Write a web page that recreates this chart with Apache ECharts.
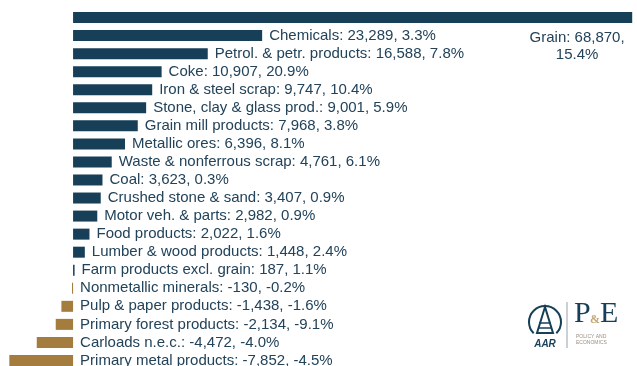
<!DOCTYPE html>
<html>
<head>
<meta charset="utf-8">
<script src="https://cdn.jsdelivr.net/npm/echarts@6/dist/echarts.min.js"></script>
<style>
  html, body { margin: 0; padding: 0; background: #fff; overflow: hidden; }
  #chart { width: 637px; height: 376px; }
</style>
</head>
<body>
<div id="chart"></div>
<script>
const categories = [
  'Grain', 'Chemicals', 'Petrol. & petr. products', 'Coke', 'Iron & steel scrap',
  'Stone, clay & glass prod.', 'Grain mill products', 'Metallic ores',
  'Waste & nonferrous scrap', 'Coal', 'Crushed stone & sand', 'Motor veh. & parts',
  'Food products', 'Lumber & wood products', 'Farm products excl. grain',
  'Nonmetallic minerals', 'Pulp & paper products', 'Primary forest products',
  'Carloads n.e.c.', 'Primary metal products'
]
const carloadChange = [
  68870, 23289, 16588, 10907, 9747, 9001, 7968, 6396, 4761, 3623,
  3407, 2982, 2022, 1448, 187, -130, -1438, -2134, -4472, -7852
]
const pctChange = [
  15.4, 3.3, 7.8, 20.9, 10.4, 5.9, 3.8, 8.1, 6.1, 0.3,
  0.9, 0.9, 1.6, 2.4, 1.1, -0.2, -1.6, -9.1, -4.0, -4.5
]

const NAVY = '#173f58'
const GOLD = '#a47c3e'
const TEXT = '#22435a'

const chart = echarts.init(document.getElementById('chart'))

function fmt(i) {
  return categories[i] + ': ' + carloadChange[i].toLocaleString('en-US') + ', ' + pctChange[i].toFixed(1) + '%'
}

const barData = carloadChange.map(v => ({
  value: v,
  itemStyle: { color: v >= 0 ? NAVY : GOLD }
}))

// transparent helper bars carry the labels (negatives label from zero)
const labelData = carloadChange.map((v, i) => {
  if (i === 0) {
    return {
      value: Math.max(v, 0),
      label: {
        position: [504, 17],
        align: 'center',
        verticalAlign: 'top',
        lineHeight: 17,
        formatter: categories[0] + ': ' + v.toLocaleString('en-US') + ',\n' + pctChange[0].toFixed(1) + '%'
      }
    }
  }
  return { value: Math.max(v, 0) }
})

const option = {
  animation: false,
  grid: { left: 0, top: 8.5, width: 637, height: 361 },
  xAxis: {
    type: 'value',
    min: -9000,
    max: 69460,
    show: false
  },
  yAxis: {
    type: 'category',
    data: categories,
    inverse: true,
    show: false
  },
  series: [
    {
      type: 'bar',
      data: barData,
      barWidth: 11,
      silent: true
    },
    {
      type: 'bar',
      data: labelData,
      barWidth: 11,
      barGap: '-100%',
      itemStyle: { color: 'rgba(0,0,0,0)' },
      silent: true,
      label: {
        show: true,
        position: 'right',
        distance: 7,
        color: TEXT,
        fontFamily: 'Liberation Sans, Arial, sans-serif',
        fontSize: 15,
        formatter: p => fmt(p.dataIndex)
      }
    }
  ],
  graphic: [
    // AAR / P&E logo
    { type: 'arc', shape: { cx: 545, cy: 322, r: 16, startAngle: Math.PI * 0.75, endAngle: Math.PI * 0.25 },
      style: { stroke: NAVY, lineWidth: 2, fill: null } },
    { type: 'polygon', shape: { points: [[545, 307], [537, 333], [553, 333]] },
      style: { fill: null, stroke: NAVY, lineWidth: 2 } },
    { type: 'line', shape: { x1: 539, y1: 323, x2: 551, y2: 323 }, style: { stroke: NAVY, lineWidth: 1.5 } },
    { type: 'line', shape: { x1: 538, y1: 328, x2: 552, y2: 328 }, style: { stroke: NAVY, lineWidth: 1.5 } },
    { type: 'text', x: 545, y: 339, style: { text: 'AAR', fill: NAVY, font: 'italic bold 10px Liberation Sans', align: 'center' } },
    { type: 'line', shape: { x1: 567, y1: 302, x2: 567, y2: 348 }, style: { stroke: '#b9c0c6', lineWidth: 1.5 } },
    { type: 'text', x: 574, y: 299, style: { text: 'P', fill: NAVY, font: '30px Liberation Serif' } },
    { type: 'text', x: 590, y: 314, style: { text: '&', fill: '#c2a877', font: 'bold 12px Liberation Serif' } },
    { type: 'text', x: 600, y: 299, style: { text: 'E', fill: NAVY, font: '30px Liberation Serif' } },
    { type: 'text', x: 576, y: 334, style: { text: 'POLICY AND', fill: '#9a8f80', font: '5px Liberation Sans' } },
    { type: 'text', x: 576, y: 340, style: { text: 'ECONOMICS', fill: '#9a8f80', font: '5px Liberation Sans' } }
  ]
}

chart.setOption(option)
</script>
</body>
</html>
